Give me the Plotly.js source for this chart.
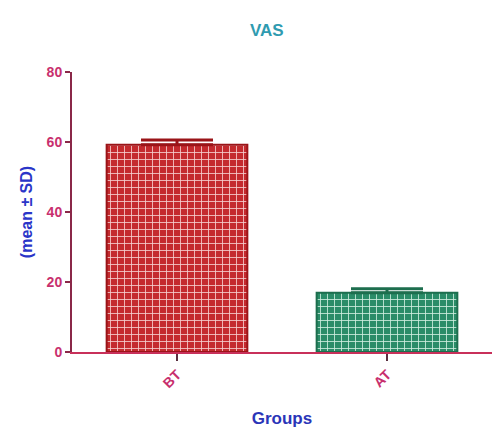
<!DOCTYPE html>
<html><head><meta charset="utf-8">
<script src="https://cdn.plot.ly/plotly-3.0.1.min.js"></script>
<style>body{margin:0;background:#fff}#c{width:494px;height:432px}</style>
</head><body><div id="c"></div>
<script>
const categories = ["BT", "AT"];
const means = [59.2, 16.9];
const sds = [1.4, 1.2];
const yTicks = [0, 20, 40, 60, 80];

const fills = ["#c42a2e", "#2a8c68"];
const edges = ["#9a1418", "#1d6e4e"];

const traces = categories.map((c, i) => ({
  type: "bar",
  x: [c],
  y: [means[i]],
  width: 0.67,
  marker: {
    color: fills[i],
    line: {color: edges[i], width: 2},
    pattern: {shape: "+", fgcolor: "#f6d0d0", bgcolor: fills[i], size: 7, solidity: 0.22}
  },
  error_y: {type: "data", array: [sds[i]], arrayminus: [0], symmetric: false, visible: true,
            color: edges[i], thickness: 3, width: 36},
  showlegend: false,
  hoverinfo: "skip"
}));
traces[1].marker.pattern.fgcolor = "#d2efe2";

const layout = {
  width: 494, height: 432,
  margin: {l: 72, r: 2, t: 72, b: 80},
  paper_bgcolor: "#fff", plot_bgcolor: "#fff",
  font: {family: "Liberation Sans, Arial, sans-serif"},
  title: {text: "<b>VAS</b>", x: 0.54, xanchor: "center", y: 0.93, yanchor: "middle",
          font: {size: 17, color: "#2f9bb0"}},
  xaxis: {
    type: "category", categoryorder: "array", categoryarray: categories,
    range: [-0.5, 1.5],
    showline: true, linecolor: "#c8305a", linewidth: 2,
    ticks: "outside", ticklen: 7, tickwidth: 2, tickcolor: "#5a3040",
    tickangle: -45, tickfont: {size: 14, color: "#c8306e", weight: "bold"},
    showgrid: false, zeroline: false,
    title: {text: "<b>Groups</b>", font: {size: 17, color: "#2a35b8"}, standoff: 22}
  },
  yaxis: {
    range: [0, 80], tickvals: yTicks, ticktext: yTicks.map(String),
    showline: true, linecolor: "#8a2848", linewidth: 2,
    ticks: "outside", ticklen: 5, tickwidth: 2, tickcolor: "#8a2848",
    tickfont: {size: 14, color: "#c8306e", weight: "bold"},
    showgrid: false, zeroline: false,
    title: {text: "<b>(mean ± SD)</b>", font: {size: 16, color: "#2a35c8"}, standoff: 10}
  }
};
Plotly.newPlot("c", traces, layout, {displayModeBar: false, staticPlot: true});
</script></body></html>
